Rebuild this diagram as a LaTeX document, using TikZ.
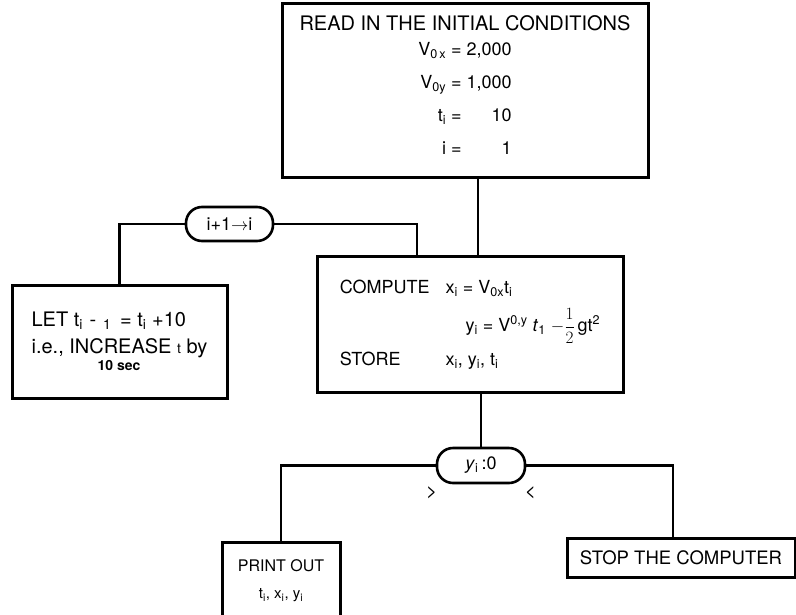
\documentclass[tikz,border=0pt]{standalone}
\usepackage{fontspec}
\setmainfont{TeX Gyre Heros}
\usepackage{amsmath}
\usetikzlibrary{positioning}
\newcommand{\fz}[2]{\fontsize{#1}{#2}\selectfont}

\begin{document}
\begin{tikzpicture}[
  x=1pt, y=-1pt,
  every node/.style={font=\fz{17}{28}},
  blk/.style={draw, line width=3pt, align=center, inner sep=0pt},
  rnd/.style={draw, line width=2.6pt, rounded corners=16pt, minimum width=87pt,
              minimum height=34pt, inner sep=0pt},
  ln/.style={line width=2.6pt},
  lbl/.style={font=\fz{19}{20}}
]
\useasboundingbox (0,0) rectangle (796,614);
\clip (0,0) rectangle (796,614);

\node[blk, minimum width=366pt, minimum height=174pt, font=\fz{18}{33}] (read) at (465,90)
  {{\fz{20}{33}READ IN THE INITIAL CONDITIONS}\\
   \begin{tabular}{@{}r@{ = }r@{}}
   V\textsubscript{0\,x} & 2,000\\
   V\textsubscript{0y} & 1,000\\
   t\textsubscript{i} & 10\\
   i & 1
   \end{tabular}};
\node[blk, minimum width=306pt, minimum height=136pt, font=\fz{18}{28}] (comp) at (470,324)
  {\begin{tabular}{@{}l@{\hspace{16pt}}l@{}}
   COMPUTE & x\textsubscript{i} = V\textsubscript{0x}t\textsubscript{i}\\[6pt]
   & \hspace{20pt}y\textsubscript{i} = V\textsuperscript{0,y} \textit{t}\textsubscript{1} $-\dfrac{1}{2}$\,gt\textsuperscript{2}\\[6pt]
   STORE & x\textsubscript{i}, y\textsubscript{i}, t\textsubscript{i}
   \end{tabular}};
\node[blk, minimum width=215pt, minimum height=113pt, align=left, font=\fz{20}{27}] (let) at (119.5,341.5)
  {LET t\textsubscript{i}\,\,-\,\,\textsubscript{1}\, = t\textsubscript{i} +10\\
   i.e., INCREASE {\fz{14}{14}t} by\\[-10pt]
   \hspace*{66pt}{\fz{14}{14}\bfseries 10 sec}};
\node[rnd, font=\fz{18}{20}] (incr) at (229.5,224) {i+1$\rightarrow$i};
\node[rnd, minimum width=88pt, minimum height=35pt, font=\fz{18}{20}] (dec) at (481,465.5) {\textit{y}\textsubscript{i}\,:0};
\node[blk, minimum width=118pt, minimum height=78pt, font=\fz{16}{27}] (prt) at (281,581)
  {PRINT OUT\\{\fz{15}{18}t\textsubscript{i}, x\textsubscript{i}, y\textsubscript{i}}};
\node[blk, minimum width=228pt, minimum height=39pt, font=\fz{18.5}{20}] (stop) at (681,557.5) {STOP THE COMPUTER};

\node[lbl] (gt) at ([shift={(-4pt,-8pt)}]dec.south west) {>};
\node[lbl] (lt) at ([shift={(4pt,-8pt)}]dec.south east) {<};

\draw[ln] ([xshift=8pt]comp.north |- read.south) -- ([xshift=8pt]comp.north);
\draw[ln] (incr.east) -| ([xshift=-53pt]comp.north);
\draw[ln] (incr.west) -| (let.north);
\draw[ln] (dec.north |- comp.south) -- (dec.north);
\draw[ln] (dec.west) -| (prt.north);
\draw[ln] (dec.east) -| ([xshift=-8pt]stop.north);

\end{tikzpicture}
\end{document}
